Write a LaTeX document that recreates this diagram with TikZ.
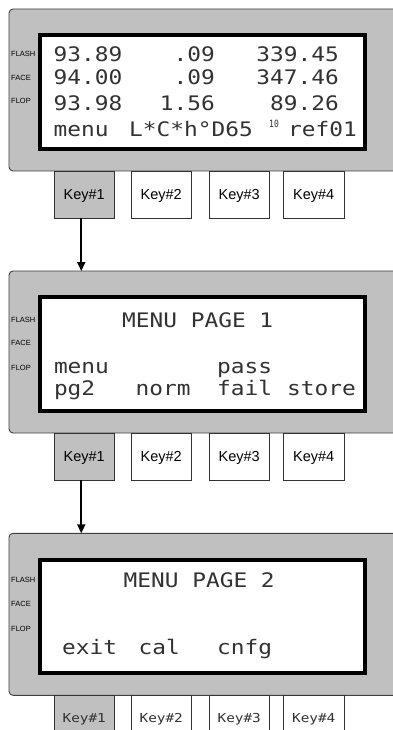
\documentclass[tikz,border=0pt]{standalone}
\usepackage{fontspec}
\usepackage{graphicx}
\setmainfont{Liberation Sans}
\newfontfamily\lcdfam{DejaVu Sans Mono}
\usetikzlibrary{arrows.meta}
\definecolor{panelgray}{RGB}{192,192,192}
\definecolor{lcdink}{RGB}{50,50,50}
\newcommand\lcdtxt[1]{\scalebox{1.14}[1]{#1}}
\newcommand\lcdsmall[1]{\scalebox{1.17}[1]{#1}}
\begin{document}
\begin{tikzpicture}[x=1pt,y=-1pt,
  panel/.style={draw=black!75, line width=0.9pt, fill=panelgray, rounded corners=4pt, anchor=north west,
    minimum width=395pt, minimum height=162pt, inner sep=0pt, outer sep=0pt},
  lcd/.style={draw=black, line width=4pt, fill=white, anchor=north west,
    minimum width=324.4pt, minimum height=113.5pt, inner sep=0pt, outer sep=0pt},
  keybox/.style={draw=black!80, line width=0.8pt, fill=white, anchor=north west,
    minimum width=60.5pt, minimum height=47pt, inner sep=0pt, outer sep=0pt,
    font=\fontsize{14.5}{16}\selectfont, text height=10.4pt, text depth=0.4pt},
  keyon/.style={keybox, fill=panelgray},
  keylcd/.style={font=\lcdfam\fontsize{12.3}{14}\selectfont, text=lcdink, text height=9pt, text depth=2.6pt},
  side/.style={font=\fontsize{7.5}{8}\selectfont, inner sep=0pt, anchor=base west},
  lt/.style={font=\lcdfam\fontsize{20}{22}\selectfont, text=lcdink, inner sep=0pt, anchor=base west},
  ltr/.style={lt, anchor=base east},
  sup/.style={font=\lcdfam\fontsize{10}{11}\selectfont, text=lcdink, inner sep=0pt, anchor=base west},
  conn/.style={line width=2pt, -{Triangle[length=9pt,width=8pt]}}
]
\clip (0,0) rectangle (393,730);
\fill[white] (0,0) rectangle (393,730);

% ---------- panel 1 ----------
\node[panel] (p1) at (9,9) {};
\node[lcd] (l1) at (40.3,35.3) {};
\node[side] (f1a) at (11,57) {FLASH};
\node[side] (f1b) at (11,80.5) {FACE};
\node[side] (f1c) at (11,104) {FLOP};
\node[lt]  (r1a) at (53.5,62) {\lcdtxt{93.89}};
\node[ltr] (r1b) at (215,62) {\lcdtxt{.09}};
\node[ltr] (r1c) at (339,62) {\lcdtxt{339.45}};
\node[lt]  (r2a) at (53.5,84.5) {\lcdtxt{94.00}};
\node[ltr] (r2b) at (215,84.5) {\lcdtxt{.09}};
\node[ltr] (r2c) at (339,84.5) {\lcdtxt{347.46}};
\node[lt]  (r3a) at (53.5,110.5) {\lcdtxt{93.98}};
\node[ltr] (r3b) at (215,110.5) {\lcdtxt{1.56}};
\node[ltr] (r3c) at (339,110.5) {\lcdtxt{89.26}};
\node[lt]  (r4a) at (53.5,136.5) {\lcdtxt{menu}};
\node[lt]  (r4b) at (129,136.5) {\lcdtxt{L*C*h°D65}};
\node[sup] (r4s) at (269,127.5) {\scalebox{0.8}[1]{10}};
\node[lt]  (r4c) at (288,136.5) {\lcdtxt{ref01}};
\node[keyon] (k11) at (54,171) {Key\#1};
\node[keybox] (k12) at (131,171) {Key\#2};
\node[keybox] (k13) at (209,171) {Key\#3};
\node[keybox] (k14) at (283.5,171) {Key\#4};

% ---------- panel 2 ----------
\node[panel] (p2) at (9,271) {};
\node[lcd] (l2) at (40.3,297.3) {};
\node[side] (f2a) at (11,322) {FLASH};
\node[side] (f2b) at (11,345) {FACE};
\node[side] (f2c) at (11,370) {FLOP};
\node[lt] (m2t) at (122,327.3) {\lcdtxt{MENU PAGE 1}};
\node[lt] (m2a) at (53.8,373) {\lcdtxt{menu}};
\node[lt] (m2b) at (217,373) {\lcdtxt{pass}};
\node[lt] (m2c) at (53.8,395) {\lcdtxt{pg2}};
\node[lt] (m2d) at (135.5,395) {\lcdtxt{norm}};
\node[lt] (m2e) at (217,395) {\lcdtxt{fail}};
\node[lt] (m2f) at (287,395) {\lcdtxt{store}};
\node[keyon] (k21) at (54,433) {Key\#1};
\node[keybox] (k22) at (131,433) {Key\#2};
\node[keybox] (k23) at (209,433) {Key\#3};
\node[keybox] (k24) at (283.5,433) {Key\#4};

% ---------- panel 3 ----------
\node[panel] (p3) at (9,533.3) {};
\node[lcd] (l3) at (40.3,559.5) {};
\node[side] (f3a) at (11,582.5) {FLASH};
\node[side] (f3b) at (11,606.5) {FACE};
\node[side] (f3c) at (11,631) {FLOP};
\node[lt] (m3t) at (123.5,587.3) {\lcdtxt{MENU PAGE 2}};
\node[lt] (m3a) at (62,654.3) {\lcdtxt{exit}};
\node[lt] (m3b) at (138.5,654.3) {\lcdtxt{cal}};
\node[lt] (m3c) at (217,654.3) {\lcdtxt{cnfg}};
\node[keyon, keylcd] (k31) at (54,695.3) {\lcdsmall{Key\#1}};
\node[keybox, keylcd] (k32) at (131,695.3) {\lcdsmall{Key\#2}};
\node[keybox, keylcd] (k33) at (209,695.3) {\lcdsmall{Key\#3}};
\node[keybox, keylcd] (k34) at (283.5,695.3) {\lcdsmall{Key\#4}};

% ---------- connectors ----------
\coordinate (a1) at ([xshift=-3pt]k11.south);
\coordinate (a2) at ([xshift=-3pt]k21.south);
\draw[conn] (a1) -- (a1 |- p2.north);
\draw[conn] (a2) -- (a2 |- p3.north);
\end{tikzpicture}
\end{document}
